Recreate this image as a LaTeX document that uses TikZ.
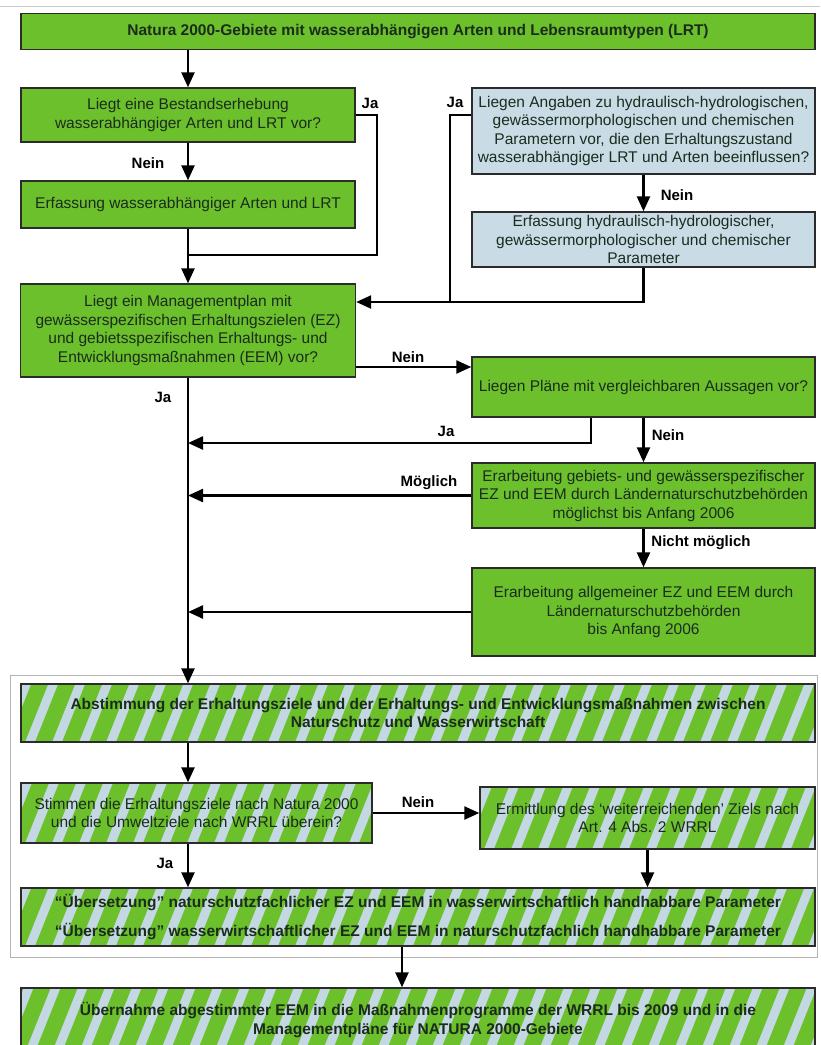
\documentclass[tikz,border=0pt]{standalone}
\usepackage{fontspec}
\setmainfont{Liberation Sans}
\usetikzlibrary{arrows.meta}
\definecolor{boxgreen}{HTML}{6CC02C}
\definecolor{boxblue}{HTML}{C9DBE5}
\definecolor{stripeblue}{HTML}{C4D8E4}
\definecolor{txtdark}{HTML}{1B2C1D}
\definecolor{framegray}{HTML}{B4B4B4}
\definecolor{bordergray}{HTML}{2B2B2B}
\tikzset{
  box/.style={draw=bordergray, line width=1.4pt, inner sep=2pt, align=center,
    text=txtdark, font=\fontsize{15.5}{18.5}\selectfont},
  boldtext/.style={font=\bfseries\fontsize{15.5}{18.5}\selectfont},
  gbox/.style={box, fill=boxgreen},
  bbox/.style={box, fill=boxblue},
  sbox/.style={box, fill=stripeblue,
    path picture={
      \foreach \k in {0,...,31}{
        \fill[boxgreen] ([xshift=\k*27pt-40pt]path picture bounding box.south west)
          -- ++(17pt,0pt) -- ++(32pt,80pt) -- ++(-17pt,0pt) -- cycle;
      }
    }},
  conn/.style={line width=2.4pt, draw=black},
  arr/.style={conn, -{Triangle[length=15pt,width=13pt]}},
  lbl/.style={font=\bfseries\fontsize{15}{18}\selectfont, text=black, inner sep=0pt},
  framebox/.style={draw=framegray, line width=0.9pt, inner sep=0pt}
}
\begin{document}
\begin{tikzpicture}[x=1pt,y=-1pt]
\clip (0,0) rectangle (820,1045);
\fill[white] (0,0) rectangle (820,1045);
\draw[framegray!70, line width=0.8pt] (0,6) -- (820,6);

% frame around coordination part
\node[framebox, minimum width=807pt, minimum height=282pt] (frame) at (413.5,816) {};

% nodes
\node[gbox, boldtext, minimum width=794pt, minimum height=36pt] (top) at (418,31.5)
  {Natura 2000-Gebiete mit wasserabhängigen Arten und Lebensraumtypen (LRT)};
\node[gbox, minimum width=334pt, minimum height=54pt] (q1) at (188,115)
  {Liegt eine Bestandserhebung\\wasserabhängiger Arten und LRT vor?};
\node[gbox, minimum width=334pt, minimum height=47pt] (e1) at (188,204.5)
  {Erfassung wasserabhängiger Arten und LRT};
\node[bbox, minimum width=343pt, minimum height=86pt] (q2) at (643.5,131)
  {Liegen Angaben zu hydraulisch-hydrologischen,\\gewässermorphologischen und chemischen\\Parametern vor, die den Erhaltungszustand\\wasserabhängiger LRT und Arten beeinflussen?};
\node[bbox, minimum width=343pt, minimum height=55pt] (e2) at (643.5,239.5)
  {Erfassung hydraulisch-hydrologischer,\\gewässermorphologischer und chemischer\\Parameter};
\node[gbox, minimum width=335pt, minimum height=93pt] (q3) at (188,330.5)
  {Liegt ein Managementplan mit\\gewässerspezifischen Erhaltungszielen (EZ)\\und gebietsspezifischen Erhaltungs- und\\Entwicklungsmaßnahmen (EEM) vor?};
\node[gbox, minimum width=343pt, minimum height=60pt] (q4) at (643.5,387)
  {Liegen Pläne mit vergleichbaren Aussagen vor?};
\node[gbox, minimum width=343pt, minimum height=65pt] (e3) at (643.5,495.5)
  {Erarbeitung gebiets- und gewässerspezifischer\\EZ und EEM durch Ländernaturschutzbehörden\\möglichst bis Anfang 2006};
\node[gbox, minimum width=343pt, minimum height=88pt] (e4) at (643.5,612)
  {Erarbeitung allgemeiner EZ und EEM durch\\Ländernaturschutzbehörden\\bis Anfang 2006};
\node[sbox, boldtext, minimum width=794pt, minimum height=58pt] (s1) at (418,713)
  {Abstimmung der Erhaltungsziele und der Erhaltungs- und Entwicklungsmaßnahmen zwischen\\Naturschutz und Wasserwirtschaft};
\node[sbox, minimum width=351pt, minimum height=60pt] (s2) at (196.5,813)
  {Stimmen die Erhaltungsziele nach Natura 2000\\und die Umweltziele nach WRRL überein?};
\node[sbox, minimum width=335pt, minimum height=62pt] (s3) at (647.5,818)
  {Ermittlung des ‘weiterreichenden’ Ziels nach\\Art. 4 Abs. 2 WRRL};
\node[sbox, boldtext, minimum width=794pt, minimum height=58pt] (s4) at (418,917)
  {“Übersetzung” naturschutzfachlicher EZ und EEM in wasserwirtschaftlich handhabbare Parameter\\[10.5pt]“Übersetzung” wasserwirtschaftlicher EZ und EEM in naturschutzfachlich handhabbare Parameter};
\node[sbox, boldtext, minimum width=794pt, minimum height=64pt] (s5) at (418,1020)
  {Übernahme abgestimmter EEM in die Maßnahmenprogramme der WRRL bis 2009 und in die\\Managementpläne für NATURA 2000-Gebiete};

% helper coordinates
\coordinate (jq1) at (377,255);
\coordinate (jb) at (450,302);
\coordinate (ny) at (0,367);
\coordinate (jq4) at (591,443);
\coordinate (c402) at (402,0);

% connectors
\draw[arr] (q1 |- top.south) -- (q1.north);
\draw[arr] (q1.south) -- (e1.north);
\draw[conn] (q1.east) -| (jq1) -- (q1 |- jq1);
\draw[arr] (e1.south) -- (q3.north);
\draw[conn] (q2.west |- q1.east) -| (jb);
\draw[arr] (q2.south) -- (e2.north);
\draw[arr] (e2.south) |- (q3.east |- jb);
\draw[arr] (q3.east |- ny) -- (q4.west |- ny);
\draw[arr] (q3.south) -- (q3 |- s1.north);
\draw[arr] (q4.south -| jq4) |- (q3 |- jq4);
\draw[arr] (q4.south) -- (e3.north);
\draw[arr] (e3.west) -- (q3 |- e3.west);
\draw[arr] (e3.south) -- (e4.north);
\draw[arr] (e4.west) -- (q3 |- e4.west);
\draw[arr] (q3 |- s1.south) -- (q3 |- s2.north);
\draw[arr] (s2.east) -- (s3.west |- s2.east);
\draw[arr] (q3 |- s2.south) -- (q3 |- s4.north);
\draw[arr] (s3.south) -- (s3 |- s4.north);
\draw[arr] (c402 |- s4.south) -- (c402 |- s5.north);

% labels
\node[lbl] (l1) at (370,103) {Ja};
\node[lbl] (l2) at (148,163) {Nein};
\node[lbl] (l3) at (455,102) {Ja};
\node[lbl] (l4) at (677,195) {Nein};
\node[lbl] (l5) at (408,357) {Nein};
\node[lbl] (l6) at (163,397) {Ja};
\node[lbl] (l7) at (446,431) {Ja};
\node[lbl] (l8) at (668,435) {Nein};
\node[lbl] (l9) at (429,483) {Möglich};
\node[lbl] (l10) at (701,543) {Nicht möglich};
\node[lbl] (l11) at (418,802) {Nein};
\node[lbl] (l12) at (165,863) {Ja};
\end{tikzpicture}
\end{document}
